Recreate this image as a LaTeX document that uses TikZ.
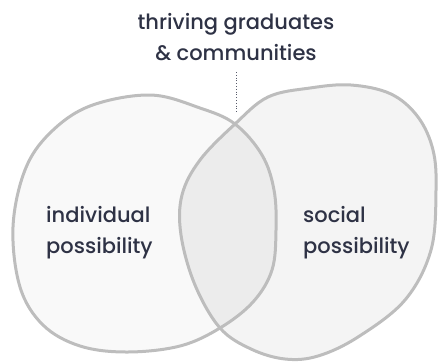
\documentclass[tikz,border=0pt]{standalone}
\usepackage{fontspec}
\setmainfont{Poppins}[UprightFont=* Medium]
\definecolor{txt}{HTML}{2E3245}
\definecolor{edge}{HTML}{BDBDBD}
\definecolor{fillL}{HTML}{F9F9F9}
\definecolor{fillR}{HTML}{F4F4F4}
\definecolor{fillI}{HTML}{ECECEC}
\begin{document}
\begin{tikzpicture}[x=1pt,y=-1pt,
  lbl/.style={text=txt,font=\fontsize{21}{31}\selectfont,inner sep=0pt},
  blob/.style={draw=edge,line width=3pt,line join=round}]
\useasboundingbox (0,0) rectangle (438,362);
\def\Lpath{plot[smooth cycle,tension=0.6] coordinates {(150,95) (200,108) (235,124) (262,155) (274,190) (276,230) (272,270) (253,302) (220,328) (180,346) (127,352) (80,346) (43,325) (20,287) (13,227) (25,170) (50,133) (90,106)}}
\def\Rpath{plot[smooth cycle,tension=0.6] coordinates {(235,124) (268,97) (310,88) (351,85) (391,94) (418,117) (433,150) (436,190) (431,250) (405,300) (358,337) (318,356) (285,359) (251,349) (220,328) (195,285) (181,235) (182,195) (200,160)}}
\fill[fillL] \Lpath;
\fill[fillR] \Rpath;
\begin{scope}
  \clip \Rpath;
  \fill[fillI] \Lpath;
\end{scope}
\draw[blob] \Lpath;
\draw[blob] \Rpath;
\node[lbl,align=center] (title) at (236,37) {thriving graduates\\\& communities};
\coordinate (dtop) at (236,72);
\coordinate (dbot) at (236,112);
\draw[txt!80,line width=0.8pt,dotted] (dtop) -- (dbot);
\node[lbl,align=left,anchor=west] (ind) at (46,233) {individual\\possibility};
\node[lbl,align=left,anchor=west] (soc) at (303,233) {social\\possibility};
\end{tikzpicture}
\end{document}
